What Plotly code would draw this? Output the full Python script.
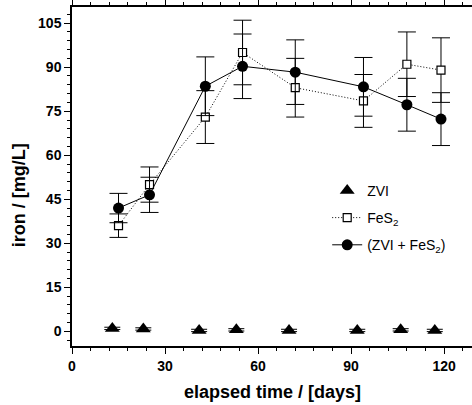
import plotly.graph_objects as go

# ---- data ----
zvi_days = [13, 23, 41, 53, 70, 92, 106, 117]
zvi_iron = [1.0, 0.8, 0.3, 0.5, 0.3, 0.3, 0.5, 0.3]
zvi_err = [0.4, 0.4, 0.4, 0.4, 0.4, 0.4, 0.4, 0.4]

fes2_days = [15, 25, 43, 55, 72, 94, 108, 119]
fes2_iron = [36, 50, 73, 95, 83, 78.5, 91, 89]
fes2_err = [4, 6, 9, 11, 10, 9, 11, 11]

mix_days = [15, 25, 43, 55, 72, 94, 108, 119]
mix_iron = [42, 46.5, 83.5, 90.3, 88.3, 83.3, 77.2, 72.3]
mix_err = [5, 6, 10, 11, 11, 10, 9, 9]

x_ticks = [0, 30, 60, 90, 120]
y_ticks = [0, 15, 30, 45, 60, 75, 90, 105]

FONT = "Liberation Sans, Arial, sans-serif"

fig = go.Figure()

fig.add_trace(go.Scatter(
    x=zvi_days, y=zvi_iron, mode="markers", name="ZVI", legendgroup="a",
    marker=dict(symbol="triangle-up", size=13, color="black"),
    error_y=dict(type="data", array=zvi_err, color="black", thickness=1, width=8),
))
fig.add_trace(go.Scatter(
    x=fes2_days, y=fes2_iron, mode="lines+markers", name="FeS<sub>2</sub>", legendgroup="b",
    line=dict(color="black", width=1, dash="1px,2px"),
    marker=dict(symbol="square", size=8, color="white", line=dict(color="black", width=1.2)),
    error_y=dict(type="data", array=fes2_err, color="black", thickness=1, width=9),
))
fig.add_trace(go.Scatter(
    x=mix_days, y=mix_iron, mode="lines+markers", name="(ZVI + FeS<sub>2</sub>)", legendgroup="c",
    line=dict(color="black", width=1),
    marker=dict(symbol="circle", size=11, color="black"),
    error_y=dict(type="data", array=mix_err, color="black", thickness=1, width=9),
))

fig.update_xaxes(
    range=[0, 129], tickvals=x_ticks, ticks="outside", ticklen=6, tickwidth=1,
    tickcolor="black", showline=True, linecolor="black", linewidth=1.5,
    mirror="ticks", showgrid=False, zeroline=False,
    tickfont=dict(family=FONT, size=14, color="black", weight="bold"),
    minor=dict(dtick=6, ticks="outside", ticklen=3, tickcolor="black", showgrid=False),
)
fig.update_yaxes(
    range=[-5, 110.5], tickvals=y_ticks, ticks="outside", ticklen=6, tickwidth=1,
    tickcolor="black", showline=True, linecolor="black", linewidth=1.5,
    showgrid=False, zeroline=False,
    tickfont=dict(family=FONT, size=14, color="black", weight="bold"),
    minor=dict(tick0=0, dtick=3, ticks="outside", ticklen=3, tickcolor="black", showgrid=False),
)

fig.add_annotation(
    text="elapsed time / [days]", xref="paper", yref="paper",
    x=0.5, y=0, yshift=-46, yanchor="middle", showarrow=False,
    font=dict(family=FONT, size=18, color="black", weight="bold"),
)
fig.add_annotation(
    text="iron / [mg/L]", xref="paper", yref="paper",
    x=0, xshift=-53, y=0.445, textangle=-90, showarrow=False,
    xanchor="center", yanchor="middle",
    font=dict(family=FONT, size=18, color="black", weight="bold"),
)

fig.update_layout(
    width=472, height=405,
    margin=dict(l=72, r=0, t=7, b=59),
    paper_bgcolor="white", plot_bgcolor="white",
    showlegend=True,
    legend=dict(
        x=0.638, y=0.505, xanchor="left", yanchor="top",
        bgcolor="rgba(0,0,0,0)", borderwidth=0,
        font=dict(family=FONT, size=14, color="black"),
        itemwidth=30, tracegroupgap=6,
    ),
)

fig.write_html("out.html", config={"displayModeBar": False},
               post_script="document.body.style.margin='0';")
